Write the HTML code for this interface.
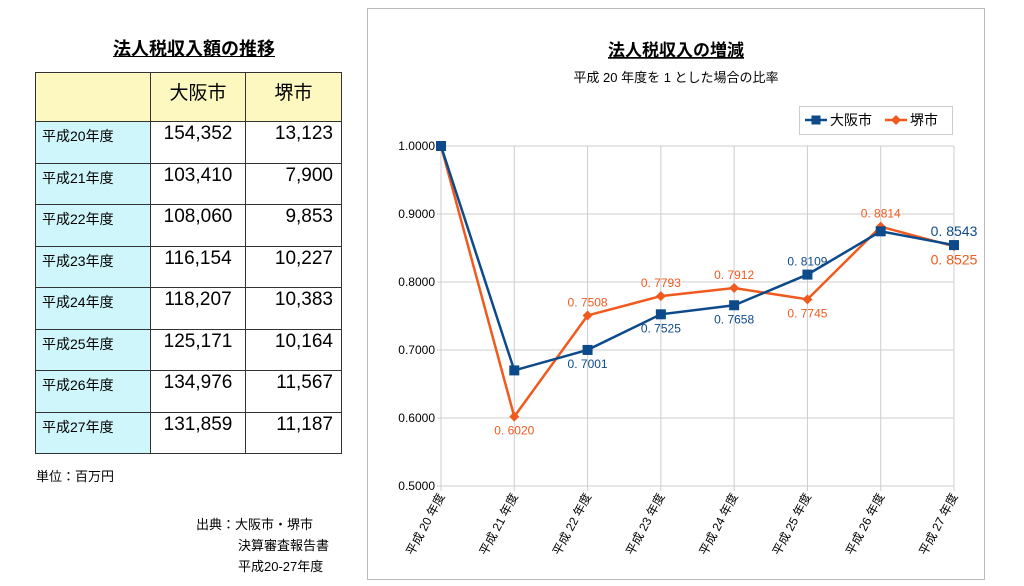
<!DOCTYPE html>
<html><head><meta charset="utf-8">
<style>
body{margin:0;width:1024px;height:586px;background:#fff;font-family:"Liberation Sans","Noto Sans CJK JP",sans-serif;position:relative;overflow:hidden}
.t{position:absolute}
table{position:absolute;left:35px;top:72px;border-collapse:collapse}
td{border:1px solid #333;padding:0;height:41.5px;box-sizing:border-box;vertical-align:top}
td.h{background:#fdf8bf;height:49px;font-size:19px;text-align:center;padding-top:5px}
td.l{background:#cff7fb;width:115px;font-size:14px;padding:4px 0 0 6px}
td.n{width:95px;font-size:19px;text-align:center;padding-top:1px}
td.m{width:96px;font-size:19px;text-align:right;padding:1px 8px 0 0}
</style></head><body>
<div class="t" style="left:0;width:388px;top:35px;text-align:center;font-size:18px;font-weight:bold;text-decoration:underline">法人税収入額の推移</div>
<table>
<tr><td class="h" style="width:115px"></td><td class="h">大阪市</td><td class="h">堺市</td></tr>
<tr><td class="l">平成20年度</td><td class="n">154,352</td><td class="m">13,123</td></tr>
<tr><td class="l">平成21年度</td><td class="n">103,410</td><td class="m">7,900</td></tr>
<tr><td class="l">平成22年度</td><td class="n">108,060</td><td class="m">9,853</td></tr>
<tr><td class="l">平成23年度</td><td class="n">116,154</td><td class="m">10,227</td></tr>
<tr><td class="l">平成24年度</td><td class="n">118,207</td><td class="m">10,383</td></tr>
<tr><td class="l">平成25年度</td><td class="n">125,171</td><td class="m">10,164</td></tr>
<tr><td class="l">平成26年度</td><td class="n">134,976</td><td class="m">11,567</td></tr>
<tr><td class="l">平成27年度</td><td class="n">131,859</td><td class="m">11,187</td></tr>
</table>
<div class="t" style="left:36px;top:466px;font-size:13px">単位：百万円</div>
<div class="t" style="left:196px;top:514px;font-size:13px;line-height:21px">出典：大阪市・堺市<br><span style="padding-left:42px">決算審査報告書</span><br><span style="padding-left:42px">平成20-27年度</span></div>

<svg class="t" style="left:0;top:0" width="1024" height="586">
<rect x="367.5" y="8.5" width="617" height="571" fill="#fff" stroke="#bbb"/>
<text x="676" y="56" text-anchor="middle" font-size="17" font-weight="bold" text-decoration="underline">法人税収入の増減</text>
<text x="676" y="82" text-anchor="middle" font-size="13">平成 20 年度を 1 とした場合の比率</text>
<g>
<rect x="799.5" y="106.5" width="153" height="28" fill="#fff" stroke="#ccc"/>
<line x1="805" y1="120" x2="827" y2="120" stroke="#0c4a8a" stroke-width="2.5"/><rect x="811.5" y="115.5" width="9" height="9" fill="#0c4a8a"/>
<text x="830" y="125" font-size="14">大阪市</text>
<line x1="885" y1="120" x2="907" y2="120" stroke="#f05a1e" stroke-width="2.5"/><path d="M896 115l5 5-5 5-5-5z" fill="#f05a1e"/>
<text x="910" y="125" font-size="14">堺市</text>
</g>
<g id="grid"></g><g id="lines"></g>
</svg>
<script>
const categories=["平成 20 年度","平成 21 年度","平成 22 年度","平成 23 年度","平成 24 年度","平成 25 年度","平成 26 年度","平成 27 年度"];
const osaka=[1.0,0.6700,0.7001,0.7525,0.7658,0.8109,0.8745,0.8543];
const sakai=[1.0,0.6020,0.7508,0.7793,0.7912,0.7745,0.8814,0.8525];
const osakaLabels=[null,null,"0.7001","0.7525","0.7658","0.8109",null,"0.8543"];
const sakaiLabels=[null,"0.6020","0.7508","0.7793","0.7912","0.7745","0.8814","0.8525"];
const osakaLabelPos=[0,0,1,1,1,-1,0,-1];
const sakaiLabelPos=[0,1,-1,-1,-1,1,-1,1];
const yTicks=[0.5,0.6,0.7,0.8,0.9,1.0];
const NS="http://www.w3.org/2000/svg";
const X0=441,X1=954,Y0=486,Y1=146,YMIN=0.5,YMAX=1.0;
const xs=i=>X0+(X1-X0)*i/(categories.length-1);
const ys=v=>Y0-(v-YMIN)/(YMAX-YMIN)*(Y0-Y1);
function mk(tag,at,parent){const e=document.createElementNS(NS,tag);for(const k in at)e.setAttribute(k,at[k]);parent.appendChild(e);return e;}
const grid=document.getElementById('grid'),lines=document.getElementById('lines');
yTicks.forEach(v=>{
 const l=mk('line',{x1:X0-4,x2:X1,y1:ys(v),y2:ys(v),stroke:'#ccc'},grid);
 
 
 const t=mk('text',{x:X0-6,y:ys(v)+4,'text-anchor':'end','font-size':12},grid);
 t.textContent=v.toFixed(4);
 
 
});
categories.forEach((c,i)=>{
 const l=mk('line',{x1:xs(i),x2:xs(i),y1:Y1,y2:Y0+5,stroke:'#ccc'},grid);
 
 
 const t=mk('text',{x:0,y:0,'text-anchor':'end','font-size':12,transform:`translate(${xs(i)+4},${Y0+10}) rotate(-62)`},grid);
 t.textContent=c;
 
 
});
function series(vals,col,name,square,labels,pos){
 const p=mk('polyline',{points:vals.map((v,i)=>xs(i)+','+ys(v)).join(' '),fill:'none',stroke:col,'stroke-width':2.5},lines);
 
 
 vals.forEach((v,i)=>{
  const x=xs(i),y=ys(v);
  const m=square?mk('rect',{x:x-5,y:y-5,width:10,height:10,fill:col},lines):mk('path',{d:`M${x} ${y-5}l5 5-5 5-5-5z`,fill:col},lines);
  
  
  if(labels[i]){
   const last=i===vals.length-1;
   const t=mk('text',{x:x,y:pos[i]>0?y+18:y-9,'text-anchor':'middle','font-size':last?14:12,fill:col},lines);
   t.textContent=labels[i].replace('0.','0. ');
   
   
  }
 });
}
series(sakai,'#f05a1e','sakai',false,sakaiLabels,sakaiLabelPos);
series(osaka,'#0c4a8a','osaka',true,osakaLabels,osakaLabelPos);
</script>
</body></html>
